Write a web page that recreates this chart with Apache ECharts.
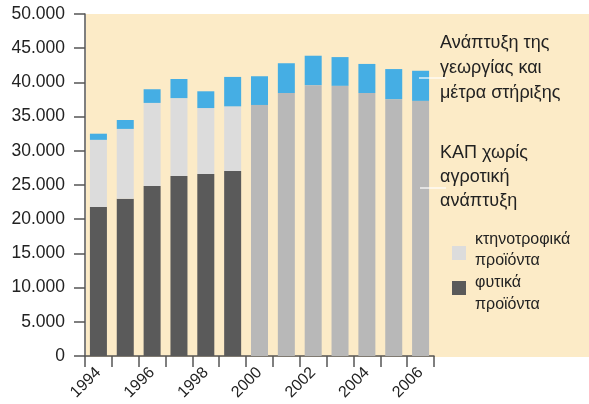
<!DOCTYPE html>
<html>
<head>
<meta charset="utf-8">
<script src="https://cdn.jsdelivr.net/npm/echarts@6/dist/echarts.min.js"></script>
<style>
  html, body { margin: 0; padding: 0; background: #fff; }
  #chart { width: 589px; height: 404px; }
</style>
</head>
<body>
<div id="chart"></div>
<script>
// έτη
const years = ['1994', '1995', '1996', '1997', '1998', '1999', '2000',
  '2001', '2002', '2003', '2004', '2005', '2006'];
// φυτικά προϊόντα (σκούρο γκρι)
const crops = [21800, 23000, 24850, 26300, 26600, 27050, null, null, null, null, null, null, null];
// κτηνοτροφικά προϊόντα (ανοιχτό γκρι)
const livestock = [9800, 10200, 12150, 11400, 9650, 9450, null, null, null, null, null, null, null];
// ΚΑΠ χωρίς αγροτική ανάπτυξη
const capNoRural = [null, null, null, null, null, null, 36700, 38450, 39600, 39500, 38450, 37550, 37300];
// Ανάπτυξη της γεωργίας και μέτρα στήριξης
const ruralDev = [900, 1300, 2000, 2800, 2450, 4300, 4200, 4350, 4300, 4200, 4250, 4400, 4400];

const yTicks = { min: 0, max: 50000, interval: 5000 };

const chart = echarts.init(document.getElementById('chart'), null, { renderer: 'canvas' });

const txt = '#222';
const fontFam = '"Liberation Sans", Arial, sans-serif';

function bar(name, data, color) {
  return {
    name: name,
    type: 'bar',
    stack: 'total',
    data: data,
    barWidth: 17,
    itemStyle: { color: color },
    emphasis: { disabled: true }
  };
}

chart.setOption({
  animation: false,
  grid: { left: 85, right: 155, top: 14, bottom: 48 },
  xAxis: {
    type: 'category',
    data: years,
    boundaryGap: true,
    axisLine: { lineStyle: { color: '#555', width: 1.5 } },
    axisTick: { show: true, interval: 0, length: 11, lineStyle: { color: '#555', width: 1.5 } },
    axisLabel: {
      interval: 1, rotate: 45, margin: 14,
      color: txt, fontSize: 16, fontFamily: fontFam
    }
  },
  yAxis: {
    type: 'value',
    min: yTicks.min, max: yTicks.max, interval: yTicks.interval,
    splitLine: { show: false },
    axisLine: { show: true, lineStyle: { color: '#555', width: 1.5 } },
    axisTick: { show: true, length: 11, lineStyle: { color: '#555', width: 1.5 } },
    axisLabel: {
      margin: 20, color: txt, fontSize: 17.5, fontFamily: fontFam,
      formatter: v => v === 0 ? '0' : (v / 1000).toFixed(0) + '.000'
    }
  },
  series: [
    bar('φυτικά προϊόντα', crops, '#5a5a5a'),
    bar('κτηνοτροφικά προϊόντα', livestock, '#dcdcdc'),
    bar('ΚΑΠ χωρίς αγροτική ανάπτυξη', capNoRural, '#b8b8b8'),
    bar('Ανάπτυξη της γεωργίας και μέτρα στήριξης', ruralDev, '#45aee4')
  ],
  graphic: [
    { type: 'rect', z: -10, silent: true,
      shape: { x: 86, y: 14, width: 503, height: 343 },
      style: { fill: '#fcebc7' } },
    { type: 'line', z: 10, shape: { x1: 419, y1: 78, x2: 446, y2: 78 },
      style: { stroke: '#fff', lineWidth: 1.2 } },
    { type: 'line', z: 10, shape: { x1: 420, y1: 188, x2: 446, y2: 188 },
      style: { stroke: '#fff', lineWidth: 1.2 } },
    { type: 'text', z: 10, style: {
      x: 440, y: 31, text: 'Ανάπτυξη της\nγεωργίας και\nμέτρα στήριξης',
      fill: txt, fontSize: 18, fontFamily: fontFam, lineHeight: 25, verticalAlign: 'top' } },
    { type: 'text', z: 10, style: {
      x: 440, y: 141, text: 'ΚΑΠ χωρίς\nαγροτική\nανάπτυξη',
      fill: txt, fontSize: 18, fontFamily: fontFam, lineHeight: 24, verticalAlign: 'top' } },
    { type: 'rect', z: 10, shape: { x: 452, y: 246, width: 14, height: 14 },
      style: { fill: '#dcdcdc' } },
    { type: 'rect', z: 10, shape: { x: 452, y: 281, width: 14, height: 14 },
      style: { fill: '#5a5a5a' } },
    { type: 'text', z: 10, style: {
      x: 475, y: 229, text: 'κτηνοτροφικά\nπροϊόντα',
      fill: txt, fontSize: 16, fontFamily: fontFam, lineHeight: 21, verticalAlign: 'top' } },
    { type: 'text', z: 10, style: {
      x: 475, y: 272, text: 'φυτικά\nπροϊόντα',
      fill: txt, fontSize: 16, fontFamily: fontFam, lineHeight: 22, verticalAlign: 'top' } }
  ]
});
</script>
</body>
</html>
